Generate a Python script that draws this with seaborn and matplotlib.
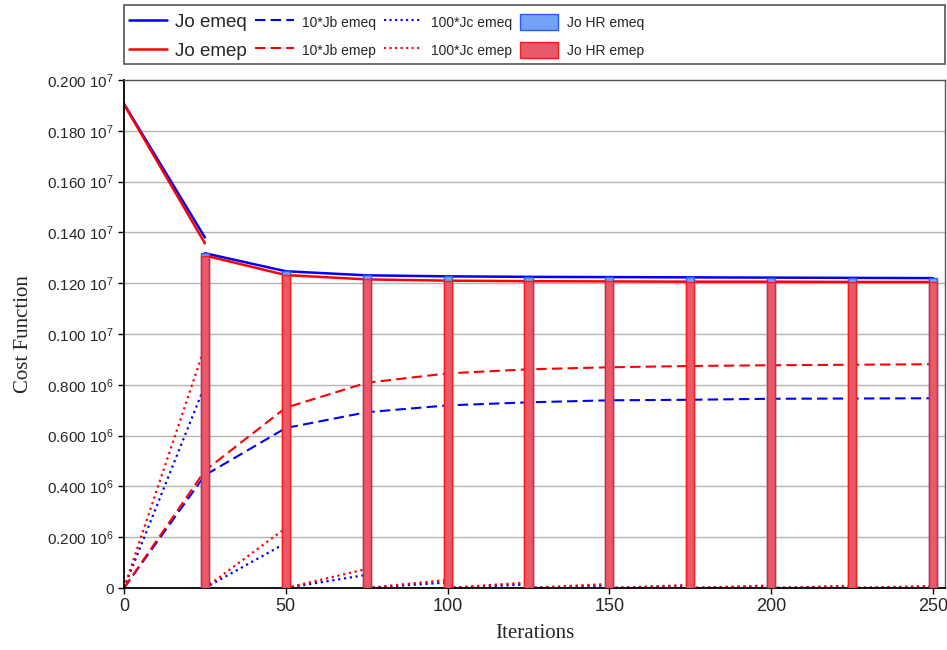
# Cost function per iteration for emeq / emep runs, with Jo HR bars at each outer loop.

import numpy as np
import pandas as pd
import matplotlib
matplotlib.use("Agg")
import matplotlib.pyplot as plt
from matplotlib.lines import Line2D
from matplotlib.patches import Patch, Rectangle
from matplotlib.ticker import FuncFormatter
import seaborn as sns

# %%
# values
iters = [0, 25, 50, 75, 100, 125, 150, 175, 200, 225, 250]
iters_hr = [25, 50, 75, 100, 125, 150, 175, 200, 225, 250]

# Jo, first outer loop (before the first HR recompute)
jo_first_emeq = [1.906e6, 1.380e6]
jo_first_emep = [1.904e6, 1.357e6]

# Jo HR at the start of each following outer loop
jo_hr_emeq = [1.318e6, 1.247e6, 1.231e6, 1.227e6, 1.225e6, 1.224e6, 1.223e6, 1.222e6, 1.221e6, 1.220e6]
jo_hr_emep = [1.309e6, 1.232e6, 1.215e6, 1.210e6, 1.208e6, 1.207e6, 1.206e6, 1.206e6, 1.205e6, 1.205e6]

# 10*Jb
jb_emeq = [0, 0.444e6, 0.630e6, 0.692e6, 0.719e6, 0.731e6, 0.739e6, 0.741e6, 0.745e6, 0.746e6, 0.747e6]
jb_emep = [0, 0.462e6, 0.710e6, 0.808e6, 0.845e6, 0.861e6, 0.869e6, 0.874e6, 0.877e6, 0.879e6, 0.881e6]

# 100*Jc at the end of each outer loop (each loop starts from 0)
jc_emeq = [0.798e6, 0.177e6, 0.052e6, 0.022e6, 0.014e6, 0.010e6, 0.008e6, 0.007e6, 0.006e6, 0.005e6]
jc_emep = [0.950e6, 0.236e6, 0.075e6, 0.032e6, 0.022e6, 0.016e6, 0.012e6, 0.010e6, 0.009e6, 0.008e6]

# %%
def jo_frame(first, hr):
    x = [0, 25] + iters_hr
    seg = [0, 0] + [1] * len(iters_hr)
    return pd.DataFrame({"it": x, "val": list(first) + list(hr), "seg": seg})


def jc_frame(ends):
    rows = []
    for k, v in enumerate(ends):
        rows.append((iters[k], 0.0, k))
        rows.append((iters[k + 1], v, k))
    return pd.DataFrame(rows, columns=["it", "val", "seg"])


blue = "#0000ff"
red = "#ff0000"

sns.set_style("white")
plt.rcParams["font.family"] = ["Liberation Sans", "DejaVu Sans"]
plt.rcParams["mathtext.default"] = "regular"

fig = plt.figure(figsize=(9.47, 6.5), dpi=100)
ax = fig.add_axes([124 / 947, 62 / 650, 821 / 947, 508 / 650])

# lines
for df_, col in [(jc_frame(jc_emeq), blue), (jc_frame(jc_emep), red)]:
    sns.lineplot(data=df_, x="it", y="val", units="seg", estimator=None, color=col,
                 linestyle=":", linewidth=1.6, ax=ax, legend=False)
jb_df = pd.DataFrame({"it": iters, "emeq": jb_emeq, "emep": jb_emep})
sns.lineplot(data=jb_df, x="it", y="emeq", color=blue, linestyle=(0, (5, 2.5)), linewidth=1.5, ax=ax)
sns.lineplot(data=jb_df, x="it", y="emep", color=red, linestyle=(0, (5, 2.5)), linewidth=1.5, ax=ax)
sns.lineplot(data=jo_frame(jo_first_emeq, jo_hr_emeq), x="it", y="val", units="seg", estimator=None,
             color=blue, linewidth=1.8, ax=ax, legend=False)
sns.lineplot(data=jo_frame(jo_first_emep, jo_hr_emep), x="it", y="val", units="seg", estimator=None,
             color=red, linewidth=1.8, ax=ax, legend=False)

# bars
sns.barplot(x=iters_hr, y=jo_hr_emeq, native_scale=True, width=0.1, color="#74a2f6",
            edgecolor="#2a5bf0", linewidth=1, saturation=1, errorbar=None, ax=ax, zorder=3)
sns.barplot(x=iters_hr, y=jo_hr_emep, native_scale=True, width=0.1, color="#e65a6a",
            edgecolor="#ff1a1a", linewidth=1, saturation=1, errorbar=None, ax=ax, zorder=3)

# axes
ax.set_xlim(0, 253.7)
ax.set_ylim(0, 2.0e6)
ax.set_xticks([0, 50, 100, 150, 200, 250])
ax.set_yticks(np.arange(0, 2.01e6, 0.2e6))


def yfmt(v, pos):
    if v == 0:
        return "0"
    if v >= 0.999e6:
        return "%.3f 10$^{7}$" % (v / 1e7)
    return "%.3f 10$^{6}$" % (v / 1e6)


ax.yaxis.set_major_formatter(FuncFormatter(yfmt))
ax.tick_params(axis="y", labelsize=11, direction="out", length=4, width=1, left=True, color="black")
ax.tick_params(axis="x", labelsize=13, direction="out", length=4, width=1, bottom=True, color="black")
ax.grid(axis="y", color="#b4b4b4", linewidth=1)
ax.set_axisbelow(True)
for s in ["left", "bottom"]:
    ax.spines[s].set_color("black")
    ax.spines[s].set_linewidth(1.3)
for s in ["top", "right"]:
    ax.spines[s].set_color("#555555")
    ax.spines[s].set_linewidth(1.0)

ax.set_xlabel("Iterations", family="Liberation Serif", fontsize=15, labelpad=6)
ax.set_ylabel("Cost Function", family="Liberation Serif", fontsize=15, labelpad=10)

# legend
handles = [
    Line2D([], [], color=blue, linewidth=1.8),
    Line2D([], [], color=red, linewidth=1.8),
    Line2D([], [], color=blue, linewidth=1.5, linestyle=(0, (5, 2.5))),
    Line2D([], [], color=red, linewidth=1.5, linestyle=(0, (5, 2.5))),
    Line2D([], [], color=blue, linewidth=1.5, linestyle=":"),
    Line2D([], [], color=red, linewidth=1.5, linestyle=":"),
    Patch(facecolor="#74a2f6", edgecolor="#2a5bf0"),
    Patch(facecolor="#e65a6a", edgecolor="#ff1a1a"),
]
labels = ["Jo emeq", "Jo emep", "10*Jb emeq", "10*Jb emep", "100*Jc emeq", "100*Jc emep",
          "Jo HR emeq", "Jo HR emep"]
leg = fig.legend(handles, labels, ncol=4, loc="upper left", bbox_to_anchor=(126 / 947, 1 - 11 / 650),
                 frameon=False, fontsize=10, handlelength=2.75, handleheight=1.4, columnspacing=0.6,
                 handletextpad=0.6, labelspacing=0.85, borderaxespad=0, borderpad=0.2)
for t in leg.get_texts()[:2]:
    t.set_fontsize(13.5)
fig.patches.append(Rectangle((124 / 947, 1 - 64 / 650), 821 / 947, 59 / 650, transform=fig.transFigure,
                             fill=False, edgecolor="#555555", linewidth=1.2))

fig.savefig("out.png", dpi=100)
